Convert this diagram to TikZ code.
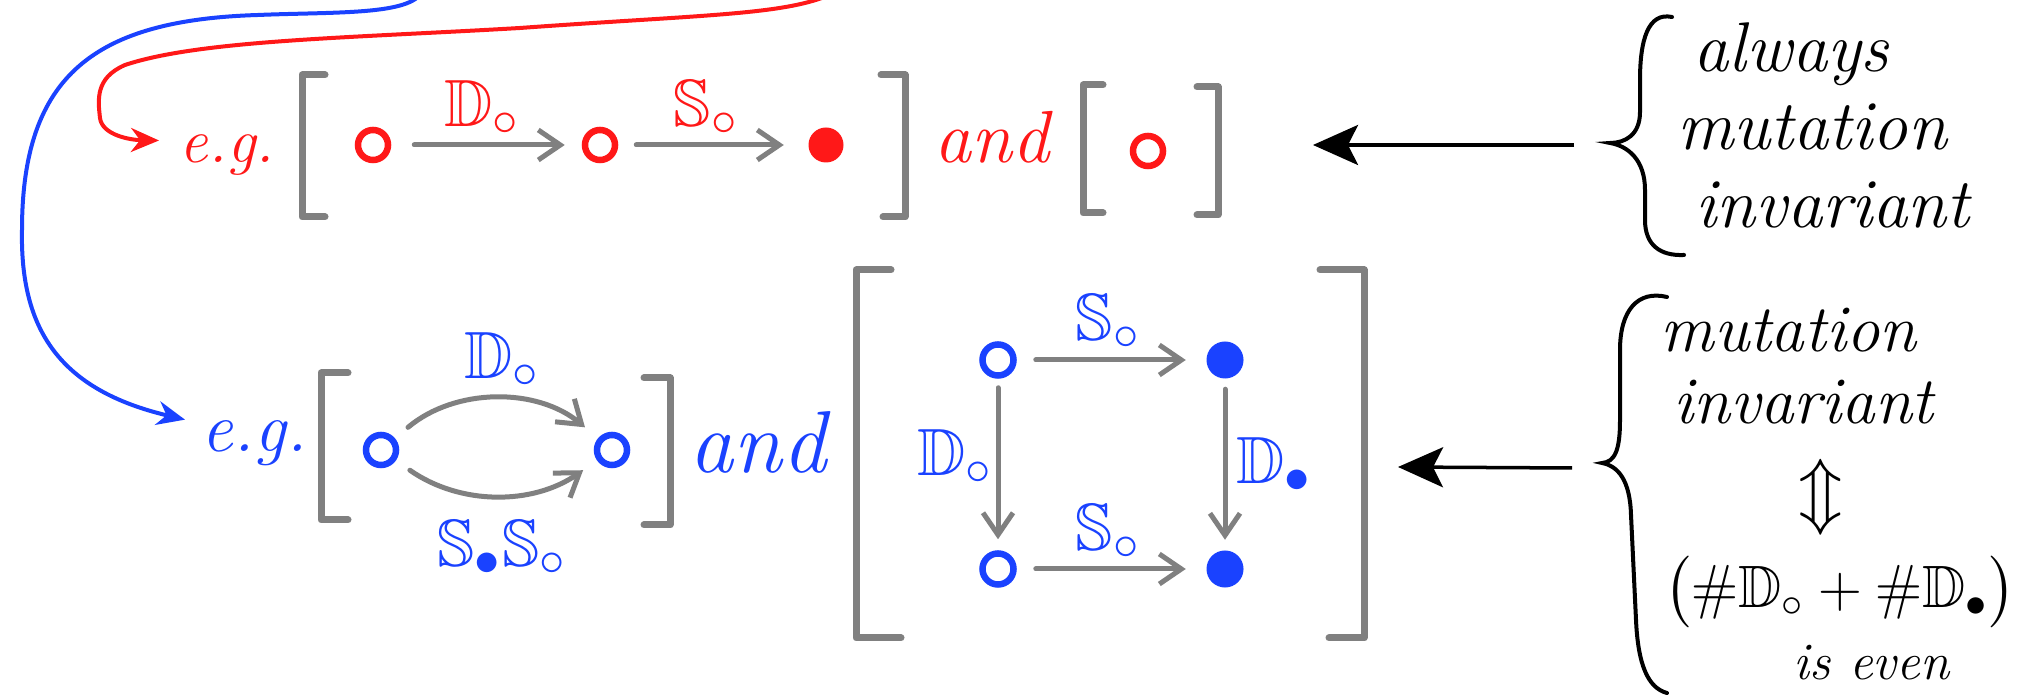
\documentclass[tikz,border=0pt]{standalone}
\usepackage{amssymb}
\usetikzlibrary{arrows.meta}
\definecolor{inkred}{RGB}{255,24,24}
\definecolor{inkblue}{RGB}{26,66,255}
\definecolor{inkgray}{RGB}{128,128,128}

\begin{document}
\begin{tikzpicture}[x=0.01cm,y=-0.01cm,
  hand/.style={font=\fontsize{20}{22}\selectfont\itshape, inner sep=0pt},
  lbl/.style={font=\fontsize{19}{22}\selectfont, inner sep=0pt},
  hollow/.style={circle, draw, line width=0.065cm, minimum size=0.3cm, inner sep=0pt},
  dotnode/.style={circle, minimum size=0.36cm, inner sep=0pt},
  brk/.style={draw=inkgray, line width=0.07cm, line cap=round, line join=round},
  garr/.style={draw=inkgray, line width=0.05cm, line cap=round,
    -{Straight Barb[length=0.22cm,width=0.3cm]}},
  karr/.style={draw=black, line width=0.035cm,
    -{Stealth[length=0.45cm,width=0.4cm,inset=0.1cm]}},
  lead/.style={line width=0.04cm, -{Stealth[length=0.28cm,width=0.24cm]}},
  bracestroke/.style={draw=black, line width=0.04cm, line cap=round}
]
\fill[white] (0,0) rectangle (2021,698);
\useasboundingbox (0,0) rectangle (2021,698);

% ---------- first row (red) ----------
\node[hand, font=\fontsize{18}{20}\selectfont\itshape, text=inkred, anchor=base west] (egred) at (179,163) {e.g.};
\node[hollow, draw=inkred] (r1) at (373,145) {};
\node[hollow, draw=inkred] (r2) at (600,145) {};
\node[dotnode, fill=inkred, minimum size=0.35cm] (r3) at (826,145) {};
\node[lbl, text=inkred] (lr1) at (482,108) {$\mathbb{D}_{\circ}$};
\node[lbl, text=inkred] (lr2) at (706,108) {$\mathbb{S}_{\circ}$};
\draw[garr, shorten <=0.23cm, shorten >=0.17cm] (r1) -- (r2);
\draw[garr, shorten <=0.18cm, shorten >=0.24cm] (r2) -- (r3);
\draw[brk] (325,75) -- (302,75) -- (302,217) -- (325,217);
\draw[brk] (881,75) -- (905,75) -- (905,217) -- (883,217);
\node[hand, font=\fontsize{21}{24}\selectfont\itshape, text=inkred, anchor=base west] (andred) at (934,163) {and};
\draw[brk] (1103,85) -- (1083,85) -- (1083,213) -- (1103,213);
\node[hollow, draw=inkred] (r4) at (1148,151) {};
\draw[brk] (1197,87) -- (1218,87) -- (1218,215) -- (1197,215);

% ---------- second row (blue) ----------
\node[hand, text=inkblue, anchor=base west] (egblue) at (201,452) {e.g.};
\draw[brk] (348,373) -- (321,373) -- (321,520) -- (348,520);
\node[hollow, draw=inkblue] (b1) at (381,450) {};
\node[hollow, draw=inkblue] (b2) at (612,450) {};
\draw[garr, shorten <=0.17cm, shorten >=0.17cm] (b1) to[bend left=40] (b2);
\draw[garr, shorten <=0.17cm, shorten >=0.17cm] (b1) to[bend right=35] (b2);
\node[lbl, text=inkblue] (lb1) at (502,360) {$\mathbb{D}_{\circ}$};
\node[lbl, text=inkblue] (lb2) at (502,548) {$\mathbb{S}_{\bullet}\mathbb{S}_{\circ}$};
\draw[brk] (644,378) -- (670,378) -- (670,525) -- (644,525);
\node[hand, font=\fontsize{25}{28}\selectfont\itshape, text=inkblue, anchor=base west] (andblue) at (689,473) {and};

% square diagram
\draw[brk] (891,270) -- (856,270) -- (856,638) -- (901,638);
\draw[brk] (1320,270) -- (1364,270) -- (1364,638) -- (1329,638);
\node[hollow, draw=inkblue, minimum size=0.31cm] (q1) at (998,360) {};
\node[dotnode, fill=inkblue, minimum size=0.37cm] (q2) at (1225,360) {};
\node[hollow, draw=inkblue, minimum size=0.31cm] (q3) at (998,569) {};
\node[dotnode, fill=inkblue, minimum size=0.37cm] (q4) at (1225,569) {};
\draw[garr, shorten <=0.19cm, shorten >=0.2cm] (q1) -- (q2);
\draw[garr, shorten <=0.19cm, shorten >=0.2cm] (q3) -- (q4);
\draw[garr, shorten <=0.09cm, shorten >=0.11cm] (q1) -- (q3);
\draw[garr, shorten <=0.1cm, shorten >=0.1cm] (q2) -- (q4);
\node[lbl, text=inkblue] (lq1) at (1108,322) {$\mathbb{S}_{\circ}$};
\node[lbl, text=inkblue] (lq2) at (1108,532) {$\mathbb{S}_{\circ}$};
\node[lbl, text=inkblue] (lq3) at (955,457) {$\mathbb{D}_{\circ}$};
\node[lbl, text=inkblue] (lq4) at (1274,465) {$\mathbb{D}_{\bullet}$};

% ---------- leader curves from above ----------
\coordinate (redsrc) at (827,-4);
\coordinate (bluesrc) at (419,-4);
\draw[lead, draw=inkred] (redsrc)
  .. controls (780,15) and (700,15) .. (520,28)
  .. controls (350,38) and (200,40) .. (125,65)
  .. controls (95,78) and (98,100) .. (100,118)
  .. controls (102,135) and (130,140) .. ([shift={(-20,-15)}]egred.west);
\draw[lead, draw=inkblue] (bluesrc)
  .. controls (400,15) and (330,12) .. (258,15)
  .. controls (95,20) and (22,75) .. (22,230)
  .. controls (20,330) and (60,390) .. ([shift={(-16,-24)}]egblue.west);

% ---------- remarks on the right ----------
\draw[bracestroke] (1672,17) .. controls (1648,12) and (1640,40) .. (1640,80)
  -- (1640,112) .. controls (1640,135) and (1625,143) .. (1610,143)
  .. controls (1628,146) and (1645,160) .. (1645,190)
  -- (1645,220) .. controls (1645,245) and (1660,256) .. (1684,255);
\node[hand, anchor=base west] (al) at (1693,72) {always};
\node[hand, anchor=base west] (mu1) at (1677,150) {mutation};
\node[hand, anchor=base west] (in1) at (1695,228) {invariant};
\coordinate (k1from) at (1574,145);
\coordinate (k1to) at (1313,145);
\draw[karr] (k1from) -- (k1to);

\draw[bracestroke] (1667,297) .. controls (1638,290) and (1620,310) .. (1620,350)
  -- (1620,420) .. controls (1620,450) and (1615,462) .. (1602,463)
  .. controls (1618,466) and (1630,480) .. (1631,515)
  -- (1636,620) .. controls (1638,665) and (1648,688) .. (1667,693);
\node[hand, font=\fontsize{19}{22}\selectfont\itshape, anchor=base west] (mu2) at (1660,352) {mutation};
\node[hand, font=\fontsize{19}{22}\selectfont\itshape, anchor=base west] (in2) at (1673,424) {invariant};
\node[inner sep=0pt, font=\fontsize{22}{24}\selectfont] (iff) at (1821,497) {$\Updownarrow$};
\node[inner sep=0pt, font=\fontsize{17}{20}\selectfont] (parity) at (1840,592)
  {$\biggl(\#\mathbb{D}_{\circ}+\#\mathbb{D}_{\bullet}\biggr)$};
\node[hand, font=\fontsize{15}{18}\selectfont\itshape, anchor=base west] (ev) at (1793,680) {is even};
\coordinate (k2from) at (1572,468);
\coordinate (k2to) at (1398,467);
\draw[karr] (k2from) -- (k2to);
\end{tikzpicture}
\end{document}
